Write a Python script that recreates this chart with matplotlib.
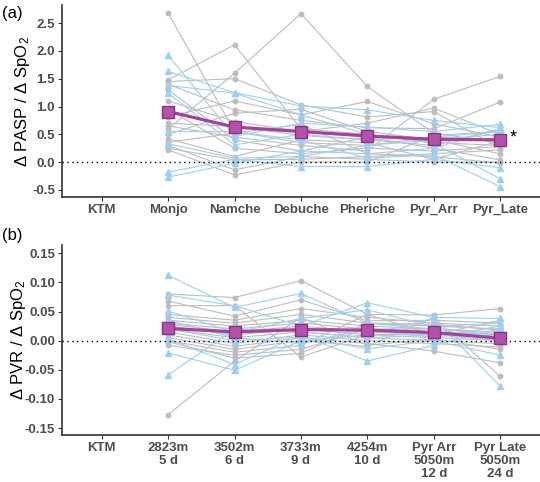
import numpy as np
import matplotlib.pyplot as plt

plt.rcParams['font.family'] = ['Liberation Sans', 'DejaVu Sans']
plt.rcParams['mathtext.fontset'] = 'custom'
plt.rcParams['mathtext.rm'] = 'Liberation Sans'
plt.rcParams['mathtext.it'] = 'Liberation Sans:italic'
plt.rcParams['mathtext.bf'] = 'Liberation Sans:bold'

sites_top = ['KTM', 'Monjo', 'Namche', 'Debuche', 'Pheriche', 'Pyr_Arr', 'Pyr_Late']
sites_bot = ['KTM', '2823m\n5 d', '3502m\n6 d', '3733m\n9 d', '4254m\n10 d',
             'Pyr Arr\n5050m\n12 d', 'Pyr Late\n5050m\n24 d']

# per-subject values, columns = Monjo .. Pyr_Late (no data at KTM)
pasp_gray = [
    [2.68, 0.55, 0.35, 0.30, 0.45, 0.40],
    [1.48, 2.11, 0.60, 0.50, 0.35, 0.30],
    [1.45, 1.50, 1.03, 0.81, 0.91, 0.25],
    [1.40, 0.94, 0.75, 0.62, 0.60, 1.08],
    [1.30, 0.40, 0.20, 0.45, 0.25, 0.04],
    [1.10, 0.73, 0.55, 0.70, 0.97, 0.50],
    [0.95, 0.25, 0.15, 0.25, 0.20, 0.28],
    [0.82, 1.10, 0.85, 1.09, 0.69, 0.45],
    [0.70, 0.64, 0.48, 0.40, 0.30, 0.60],
    [0.65, 0.45, 0.30, 0.20, 1.13, 1.54],
    [0.60, 1.60, 2.67, 1.36, 0.52, 0.35],
    [0.50, 0.88, 0.95, 0.55, 0.40, 0.15],
    [0.42, 0.10, 0.40, 0.35, 0.05, 0.38],
    [0.36, 0.52, 0.68, 0.15, 0.10, -0.02],
    [0.30, -0.14, 0.10, 0.05, 0.00, 0.00],
    [0.25, 0.04, 0.05, 0.10, 0.15, 0.22],
    [0.22, -0.23, 0.00, 0.00, 0.48, 0.55],
]
pasp_blue = [
    [1.92, 0.46, 0.70, 0.63, 0.55, 0.68],
    [1.63, 1.25, 1.01, 0.94, 0.75, 0.62],
    [1.38, 1.24, 0.85, 0.50, 0.34, -0.30],
    [1.24, 0.31, 0.50, 0.40, 0.45, 0.55],
    [0.55, 0.55, 0.40, 0.07, 0.13, -0.44],
    [0.33, 0.07, 0.10, 0.30, 0.40, 0.50],
    [-0.18, 0.05, -0.08, -0.08, 0.05, -0.10],
    [-0.27, -0.02, 0.20, 0.15, 0.25, 0.60],
]
pasp_mean = [0.91, 0.63, 0.55, 0.47, 0.41, 0.40]

pvr_gray = [
    [0.080, 0.074, 0.103, 0.045, 0.044, 0.055],
    [0.068, 0.042, 0.070, 0.034, 0.035, 0.030],
    [0.045, 0.035, 0.055, 0.040, 0.030, 0.025],
    [0.040, 0.030, 0.045, 0.030, 0.025, 0.020],
    [0.035, 0.025, 0.035, 0.025, 0.020, 0.015],
    [0.030, 0.020, 0.030, 0.020, 0.015, 0.010],
    [0.028, 0.015, 0.025, 0.015, 0.010, 0.005],
    [0.025, 0.010, 0.020, 0.010, 0.005, 0.000],
    [0.020, 0.005, 0.015, 0.005, 0.000, -0.005],
    [0.015, -0.005, 0.010, 0.000, -0.005, -0.011],
    [0.010, -0.010, 0.005, -0.005, -0.018, -0.038],
    [0.005, -0.015, 0.000, -0.010, 0.040, -0.061],
    [0.000, -0.020, -0.008, 0.045, 0.010, 0.035],
    [-0.008, -0.025, -0.015, 0.020, 0.020, 0.012],
    [-0.002, -0.030, -0.022, 0.030, 0.028, 0.018],
    [0.060, 0.060, -0.028, 0.010, 0.012, 0.008],
    [-0.127, -0.035, 0.040, -0.008, 0.003, -0.015],
]
pvr_blue = [
    [0.112, 0.057, 0.081, 0.030, 0.020, 0.010],
    [0.078, 0.060, 0.025, 0.065, 0.040, 0.038],
    [0.051, 0.014, 0.038, 0.053, 0.024, 0.030],
    [0.020, 0.000, 0.006, -0.014, 0.000, -0.025],
    [0.003, -0.041, 0.010, -0.035, -0.008, 0.020],
    [-0.021, -0.051, 0.000, 0.010, 0.038, -0.078],
    [-0.059, 0.020, 0.015, 0.005, 0.010, 0.000],
    [0.035, 0.005, -0.005, 0.020, 0.005, 0.025],
]
pvr_mean = [0.021, 0.015, 0.019, 0.018, 0.014, 0.004]

GRAY = '#bdbdbd'
BLUE = '#9dd0f0'
PURPLE = '#a8409f'
TXT = '#4d4d4d'


def draw_panel(ax, gray, blue, mean, labels, ylabel, ylim, yticks, yfmt, lab_x):
    xs = np.arange(2, 8)
    for row in gray:
        ax.plot(xs, row, color=GRAY, lw=0.8, marker='o', ms=3.2, mec=GRAY, zorder=2)
    for row in blue:
        ax.plot(xs, row, color=BLUE, lw=0.8, marker='^', ms=4, mec=BLUE, zorder=3)
    ax.axhline(0, color='black', lw=1, ls=(0, (1, 2.5)), zorder=4)
    ax.plot(xs, mean, color=PURPLE, lw=2.3, marker='s', ms=8,
            mfc='#b352aa', mec='#8e2f86', mew=1, zorder=5)

    ax.set_xlim(0.4, 7.6)
    ax.set_ylim(*ylim)
    ax.set_xticks(np.arange(1, 8))
    ax.set_xticklabels(labels, fontsize=9.5, fontweight='bold', color=TXT,
                       linespacing=1.1)
    ax.set_yticks(yticks)
    ax.set_yticklabels([yfmt.format(v) for v in yticks], fontsize=9.5,
                       fontweight='bold', color=TXT)
    ax.set_ylabel(ylabel, fontsize=12)
    ax.yaxis.set_label_coords(lab_x, 0.5)
    for s in ['top', 'right']:
        ax.spines[s].set_visible(False)
    for s in ['left', 'bottom']:
        ax.spines[s].set_color('#333333')
        ax.spines[s].set_linewidth(1.2)
    ax.tick_params(axis='both', color='#333333', length=3, width=0.8, pad=2)


fig = plt.figure(figsize=(5.4, 4.82), dpi=100)
ax1 = fig.add_axes([0.1148, 0.591, 0.885, 0.398])
ax2 = fig.add_axes([0.1148, 0.0975, 0.885, 0.394])

draw_panel(ax1, pasp_gray, pasp_blue, pasp_mean, sites_top,
           'Δ PASP / Δ SpO$_2$', (-0.63, 2.82),
           [-0.5, 0.0, 0.5, 1.0, 1.5, 2.0, 2.5], '{:.1f}', -0.062)
draw_panel(ax2, pvr_gray, pvr_blue, pvr_mean, sites_bot,
           'Δ PVR / Δ SpO$_2$', (-0.162, 0.164),
           [-0.15, -0.10, -0.05, 0.0, 0.05, 0.10, 0.15], '{:.2f}', -0.072)

ax1.text(7.15, 0.44, '*', fontsize=13, ha='left', va='center')

fig.text(0.004, 0.988, '(a)', fontsize=12, va='top')
fig.text(0.004, 0.527, '(b)', fontsize=12, va='top')

plt.savefig('out.png', dpi=100)
